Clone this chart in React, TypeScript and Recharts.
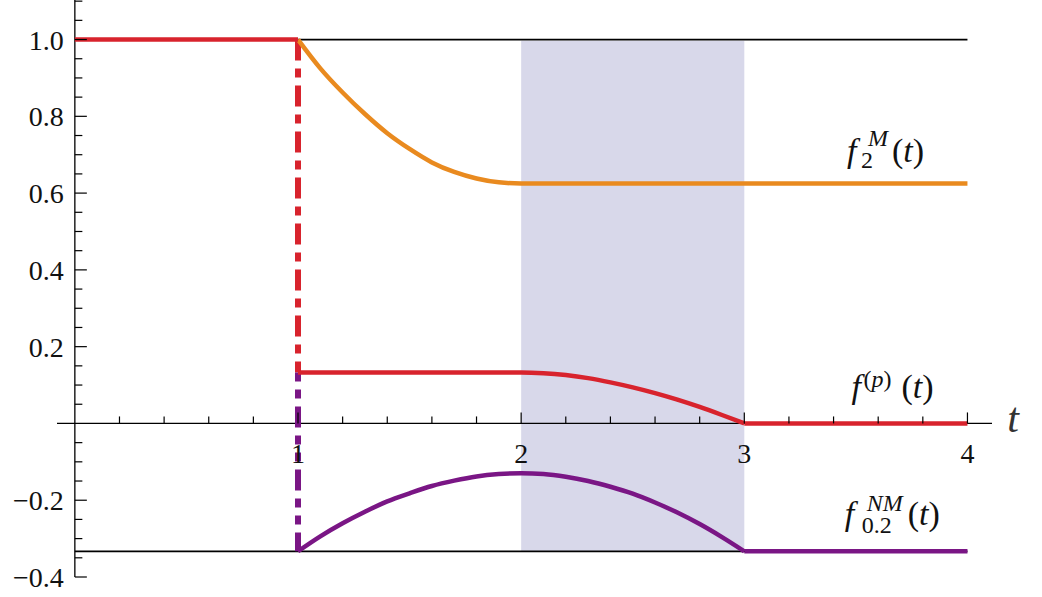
import React from "react";
import {
  ComposedChart,
  Line,
  XAxis,
  YAxis,
  ReferenceLine,
  ReferenceArea,
  ReferenceDot,
} from "recharts";

// f^(p)(t) pieces
const redHeadT = [0, 1];
const redHeadV = [1, 1];
const redMidT = [1, 1.5, 2, 2.1, 2.2, 2.3, 2.4, 2.5, 2.6, 2.7, 2.8, 2.9, 3];
const redMidV = [0.133, 0.133, 0.133, 0.131, 0.126, 0.118, 0.107, 0.094, 0.079, 0.062, 0.043, 0.022, 0];
const redTailT = [3, 4];
const redTailV = [0, 0];

// f_2^M(t)
const orangeT = [1, 1.1, 1.2, 1.3, 1.4, 1.5, 1.6, 1.7, 1.8, 1.9, 2, 3, 4];
const orangeV = [1, 0.925, 0.862, 0.806, 0.756, 0.715, 0.68, 0.655, 0.638, 0.628, 0.625, 0.625, 0.625];

// f_0.2^NM(t)
const purpleT = [1, 1.1, 1.2, 1.3, 1.4, 1.5, 1.6, 1.7, 1.8, 1.9, 2, 2.1, 2.2, 2.3, 2.4, 2.5, 2.6, 2.7, 2.8, 2.9, 3];
const purpleV = [-0.333, -0.294, -0.26, -0.23, -0.203, -0.182, -0.163, -0.149, -0.138, -0.132, -0.13, -0.132, -0.139, -0.15, -0.165, -0.183, -0.206, -0.232, -0.262, -0.296, -0.333];
const purpleTailT = [3, 4];
const purpleTailV = [-0.333, -0.333];

// axis ticks
const xMajor = [1, 2, 3, 4];
const xMinor = [0.2, 0.4, 0.6, 0.8, 1.2, 1.4, 1.6, 1.8, 2.2, 2.4, 2.6, 2.8, 3.2, 3.4, 3.6, 3.8];
const yMajor = [-0.4, -0.2, 0.2, 0.4, 0.6, 0.8, 1.0];
const yMajorLabels = ["\u22120.4", "\u22120.2", "0.2", "0.4", "0.6", "0.8", "1.0"];
const yMinor = [
  -0.35, -0.3, -0.25, -0.15, -0.1, -0.05, 0.05, 0.1, 0.15, 0.25, 0.3, 0.35, 0.45, 0.5, 0.55,
  0.65, 0.7, 0.75, 0.85, 0.9, 0.95, 1.05, 1.1,
];

const X_DOMAIN: [number, number] = [-0.08, 4.11];
const Y_DOMAIN: [number, number] = [-0.4, 1.103];
const LOWER_LEVEL = -0.333;
const JUMP_LEVEL = 0.133;

const RED = "#d8232d";
const ORANGE = "#e98a1f";
const PURPLE = "#7a1685";
const SERIF = { fontFamily: '"Liberation Serif", "DejaVu Serif", serif' };

const zip = (ts: number[], vs: number[]) => ts.map((t, i) => ({ t, v: vs[i] }));

const MathLabel = ({ cx, cy, sup, sub, subDx, subDy, supDx, supDy, parenDx }: any) => (
  <text x={cx} y={cy} style={SERIF} fontSize={34} fill="#111">
    <tspan x={cx} y={cy} fontStyle="italic">f</tspan>
    {sub && (
      <tspan x={cx + subDx} y={cy + subDy} fontSize={24}>{sub}</tspan>
    )}
    {sup === "(p)" ? (
      <tspan x={cx + supDx} y={cy + supDy} fontSize={24}>
        (<tspan fontStyle="italic">p</tspan>)
      </tspan>
    ) : (
      <tspan x={cx + supDx} y={cy + supDy} fontSize={24} fontStyle="italic">{sup}</tspan>
    )}
    <tspan x={cx + parenDx} y={cy}>(</tspan>
    <tspan fontStyle="italic">t</tspan>
    <tspan>)</tspan>
  </text>
);

export default function App() {
  return (
    <div style={{ position: "absolute", left: 0, top: 0, width: 1042, height: 597, background: "#fff" }}>
      <ComposedChart width={1042} height={597} margin={{ top: 0, right: 50, bottom: 20, left: 57 }}>
        <XAxis type="number" dataKey="t" domain={X_DOMAIN} allowDataOverflow hide />
        <YAxis type="number" domain={Y_DOMAIN} allowDataOverflow hide />

        {/* axes through origin */}
        <ReferenceLine y={0} stroke="#000" strokeWidth={1.3} ifOverflow="visible" />
        <ReferenceLine x={0} stroke="#000" strokeWidth={1.3} ifOverflow="visible" />
        {xMinor.map((v) => (
          <ReferenceDot key={"xm" + v} x={v} y={0} ifOverflow="visible"
            shape={(p: any) => <line x1={p.cx} y1={p.cy} x2={p.cx} y2={p.cy - 7} stroke="#000" strokeWidth={1.2} />} />
        ))}
        {xMajor.map((v) => (
          <ReferenceDot key={"xM" + v} x={v} y={0} ifOverflow="visible"
            shape={(p: any) => (
              <g>
                <line x1={p.cx} y1={p.cy} x2={p.cx} y2={p.cy - 11} stroke="#000" strokeWidth={1.2} />
                <text x={p.cx} y={p.cy + 40} textAnchor="middle" style={SERIF} fontSize={28} fill="#111">{v}</text>
              </g>
            )} />
        ))}
        {yMinor.map((v) => (
          <ReferenceDot key={"ym" + v} x={0} y={v} ifOverflow="visible"
            shape={(p: any) => <line x1={p.cx} y1={p.cy} x2={p.cx + 7.5} y2={p.cy} stroke="#000" strokeWidth={1.2} />} />
        ))}
        {yMajor.map((v, i) => (
          <ReferenceDot key={"yM" + v} x={0} y={v} ifOverflow="visible"
            shape={(p: any) => (
              <g>
                <line x1={p.cx} y1={p.cy} x2={p.cx + 12} y2={p.cy} stroke="#000" strokeWidth={1.2} />
                <text x={p.cx - 11} y={p.cy + 10} textAnchor="end" style={SERIF} fontSize={28} fill="#111">
                  {yMajorLabels[i]}
                </text>
              </g>
            )} />
        ))}
        <ReferenceDot x={X_DOMAIN[1]} y={0} ifOverflow="visible"
          shape={(p: any) => (
            <text x={p.cx + 21} y={p.cy + 9} textAnchor="middle" style={SERIF} fontStyle="italic" fontSize={42} fill="#333">t</text>
          )} />

        {/* guide levels */}
        <ReferenceLine segment={[{ x: 1, y: 1 }, { x: 4, y: 1 }]} stroke="#000" strokeWidth={1.8} ifOverflow="visible" />
        <ReferenceLine segment={[{ x: 0, y: LOWER_LEVEL }, { x: 4, y: LOWER_LEVEL }]} stroke="#000" strokeWidth={1.8} ifOverflow="visible" />

        {/* jumps at t = 1 */}
        <ReferenceLine segment={[{ x: 1, y: 1 }, { x: 1, y: JUMP_LEVEL }]} stroke={RED} strokeWidth={6} strokeDasharray="21 8 9 8" ifOverflow="visible" />
        <ReferenceLine segment={[{ x: 1, y: JUMP_LEVEL }, { x: 1, y: LOWER_LEVEL }]} stroke={PURPLE} strokeWidth={6} strokeDasharray="9 8 9 8 21 8" ifOverflow="visible" />

        <Line data={zip(orangeT, orangeV)} dataKey="v" type="monotone" stroke={ORANGE} strokeWidth={4.5} dot={false} isAnimationActive={false} />
        <Line data={zip(redHeadT, redHeadV)} dataKey="v" type="linear" stroke={RED} strokeWidth={4.5} dot={false} isAnimationActive={false} />
        <Line data={zip(redMidT, redMidV)} dataKey="v" type="monotone" stroke={RED} strokeWidth={4.5} dot={false} isAnimationActive={false} />
        <Line data={zip(redTailT, redTailV)} dataKey="v" type="linear" stroke={RED} strokeWidth={4.5} dot={false} isAnimationActive={false} />
        <Line data={zip(purpleT, purpleV)} dataKey="v" type="monotone" stroke={PURPLE} strokeWidth={4.5} dot={false} isAnimationActive={false} />
        <Line data={zip(purpleTailT, purpleTailV)} dataKey="v" type="linear" stroke={PURPLE} strokeWidth={4.5} dot={false} isAnimationActive={false} />

        <ReferenceArea x1={2} x2={3} y1={LOWER_LEVEL} y2={0.997} fill="#6464aa" fillOpacity={0.25} stroke="none" ifOverflow="visible" />

        {/* curve labels */}
        <ReferenceDot x={3.46} y={0.681} ifOverflow="visible"
          shape={(p: any) => <MathLabel cx={p.cx} cy={p.cy} sup="M" sub="2" subDx={14} subDy={6} supDx={21} supDy={-16} parenDx={45} />} />
        <ReferenceDot x={3.48} y={0.066} ifOverflow="visible"
          shape={(p: any) => <MathLabel cx={p.cx} cy={p.cy} sup="(p)" supDx={12} supDy={-11} parenDx={50} />} />
        <ReferenceDot x={3.45} y={-0.264} ifOverflow="visible"
          shape={(p: any) => <MathLabel cx={p.cx} cy={p.cy} sup="NM" sub="0.2" subDx={17} subDy={8} supDx={22} supDy={-14} parenDx={63} />} />
      </ComposedChart>
    </div>
  );
}
